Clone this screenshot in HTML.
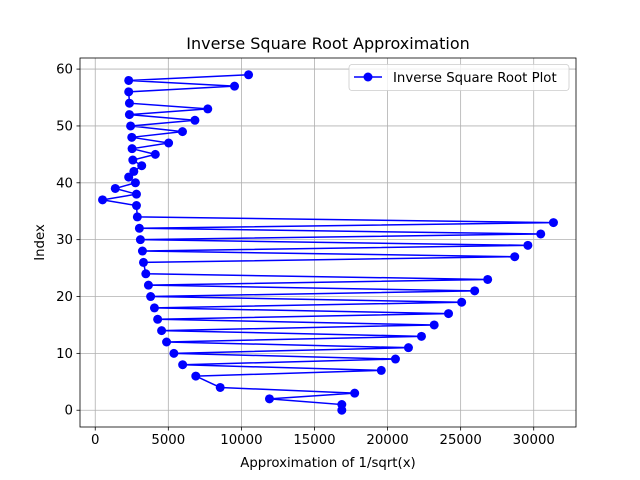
<!DOCTYPE html>
<html><head><meta charset="utf-8"><style>
body{margin:0;background:#fff;}
svg{display:block;font-family:"DejaVu Sans","Liberation Sans",sans-serif;}
</style></head><body>
<svg id="chart" width="640" height="480"></svg>
<script>
const indices=[0,1,2,3,4,6,7,8,9,10,11,12,13,14,15,16,17,18,19,20,21,22,23,24,26,27,28,29,30,31,32,33,34,36,37,38,39,40,41,42,43,44,45,46,47,48,49,50,51,52,53,54,56,57,58,59];
const values=[16870,16870,11920,17750,8550,6880,19570,5980,20540,5380,21430,4880,22320,4540,23190,4270,24170,4050,25070,3790,25960,3640,26850,3460,3300,28700,3230,29600,3090,30480,3020,31350,2880,2820,500,2820,1370,2750,2290,2640,3180,2570,4110,2520,5020,2500,5970,2420,6820,2340,7700,2340,2290,9530,2290,10490];
const xTicks=[0,5000,10000,15000,20000,25000,30000];
const yTicks=[0,10,20,30,40,50,60];
const NS="http://www.w3.org/2000/svg";
const svg=document.getElementById('chart');
const L=80,R=576,T=58,B=427;
const xmin=Math.min(...values),xmax=Math.max(...values),xm=(xmax-xmin)*0.05;
const x0=xmin-xm,x1=xmax+xm;
const y0=-2.95,y1=61.95;
function sx(v){return L+(v-x0)/(x1-x0)*(R-L);}
function sy(v){return B-(v-y0)/(y1-y0)*(B-T);}
function mk(tag,attrs,parent){const e=document.createElementNS(NS,tag);for(const k in attrs)e.setAttribute(k,attrs[k]);(parent||svg).appendChild(e);return e;}
const grid=mk('g',{});


xTicks.forEach(t=>{const X=sx(t);
 mk('line',{x1:X,x2:X,y1:T,y2:B,stroke:'#b0b0b0','stroke-width':0.8},grid);
 mk('line',{x1:X,x2:X,y1:B,y2:B+3.5,stroke:'#000','stroke-width':0.8});
 const tx=mk('text',{x:X,y:B+17,'font-size':13.3,'text-anchor':'middle',fill:'#000'});
 
 
 tx.textContent=t;});
yTicks.forEach(t=>{const Y=sy(t);
 mk('line',{x1:L,x2:R,y1:Y,y2:Y,stroke:'#b0b0b0','stroke-width':0.8},grid);
 mk('line',{x1:L-3.5,x2:L,y1:Y,y2:Y,stroke:'#000','stroke-width':0.8});
 const tx=mk('text',{x:L-7,y:Y+4.5,'font-size':13.3,'text-anchor':'end',fill:'#000'});
 
 
 tx.textContent=t;});
const pts=values.map((v,i)=>sx(v)+','+sy(indices[i])).join(' ');
const line=mk('polyline',{points:pts,fill:'none',stroke:'#0000ff','stroke-width':1.5});


values.forEach((v,i)=>{const c=mk('circle',{cx:sx(v),cy:sy(indices[i]),r:4.5,fill:'#0000ff'});
 
 });
const frame=mk('rect',{x:L,y:T,width:R-L,height:B-T,fill:'none',stroke:'#000','stroke-width':0.8});


const title=mk('text',{x:(L+R)/2,y:49,'font-size':16,'text-anchor':'middle'});


title.textContent='Inverse Square Root Approximation';
const xl=mk('text',{x:(L+R)/2,y:467,'font-size':13.3,'text-anchor':'middle'});


xl.textContent='Approximation of 1/sqrt(x)';
const yl=mk('text',{x:0,y:0,'font-size':13.3,'text-anchor':'middle',transform:'translate(44,'+((T+B)/2)+') rotate(-90)'});


yl.textContent='Index';
const lg=mk('g',{});


mk('rect',{x:349,y:64.5,width:220,height:26,rx:3,fill:'#fff','fill-opacity':0.8,stroke:'#ccc','stroke-width':0.8},lg);
mk('line',{x1:354,x2:382,y1:77,y2:77,stroke:'#0000ff','stroke-width':1.5},lg);
mk('circle',{cx:368,cy:77,r:4.5,fill:'#0000ff'},lg);
const lt=mk('text',{x:393,y:82,'font-size':13.3},lg);


lt.textContent='Inverse Square Root Plot';
</script>
</body></html>
